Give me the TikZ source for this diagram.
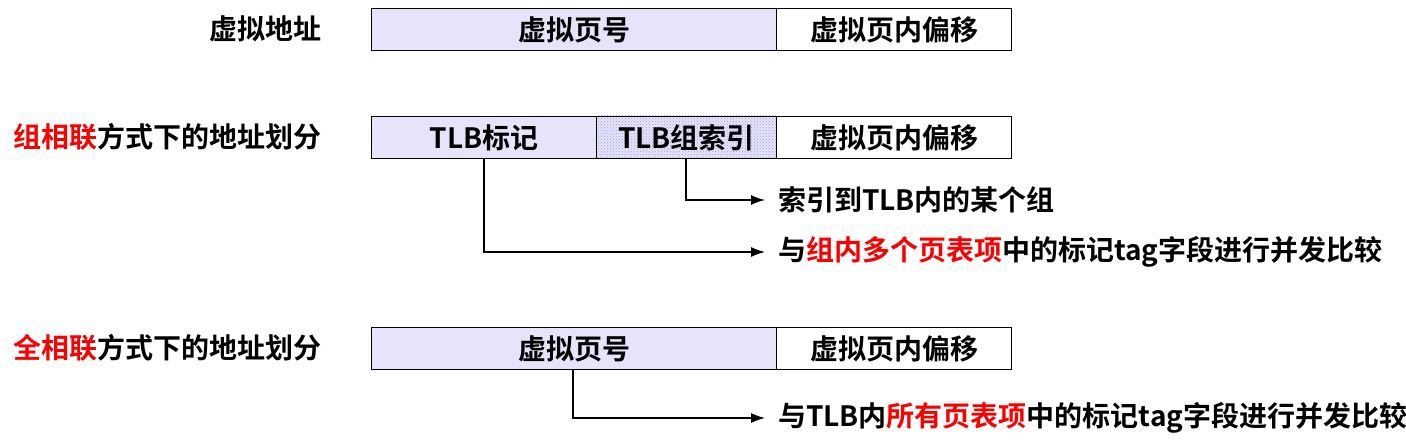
\documentclass[tikz,border=0pt]{standalone}
\usepackage{fontspec}
\setmainfont{Noto Sans CJK SC}[BoldFont={* Bold}]
\newfontfamily\cjkb{Noto Sans CJK SC Bold}
\usetikzlibrary{patterns,arrows.meta}
\definecolor{lav}{RGB}{230,228,250}
\definecolor{hatch}{RGB}{160,160,225}
\definecolor{myred}{RGB}{250,0,0}
\tikzset{
  fld/.style={draw=black,line width=1.2pt,minimum height=42pt,inner sep=0pt,anchor=north west,font=\cjkb\fontsize{28}{32}\selectfont},
  lbl/.style={font=\cjkb\fontsize{28}{32}\selectfont,inner sep=0pt},
  conn/.style={line width=1.3pt,-{Latex[length=14pt,width=10pt]}},
}
\begin{document}
\begin{tikzpicture}[x=1pt,y=-1pt]
\useasboundingbox (0,0) rectangle (1406,441);
% row 1
\node[fld,fill=lav,minimum width=405pt] (vpn1) at (371,8) {虚拟页号};
\node[fld,fill=white,minimum width=235pt] (off1) at (776,8) {虚拟页内偏移};
\node[lbl,anchor=east] (l1) at (322,29) {虚拟地址};
% row 2
\node[fld,fill=lav,minimum width=225pt] (tag2) at (371,116) {TLB标记};
\fill[lav] (596,116) rectangle (776,158);
\fill[pattern=crosshatch dots,pattern color=hatch] (596,116) rectangle (776,158);
\node[fld,minimum width=180pt] (idx2) at (596,116) {TLB组索引};
\node[fld,fill=white,minimum width=235pt] (off2) at (776,116) {虚拟页内偏移};
\node[lbl,anchor=east] (l2) at (322,137) {\textcolor{myred}{组相联}方式下的地址划分};
% row 3
\node[fld,fill=lav,minimum width=405pt] (vpn3) at (371,327) {虚拟页号};
\node[fld,fill=white,minimum width=235pt] (off3) at (776,327) {虚拟页内偏移};
\node[lbl,anchor=east] (l3) at (322,348) {\textcolor{myred}{全相联}方式下的地址划分};
% targets
\node[lbl,anchor=west] (t1) at (778,200) {索引到TLB内的某个组};
\node[lbl,anchor=west] (t2) at (778,252) {与\textcolor{myred}{组内多个页表项}中的标记tag字段进行并发比较};
\node[lbl,anchor=west] (t3) at (778,418) {与TLB内\textcolor{myred}{所有页表项}中的标记tag字段进行并发比较};
% connectors
\coordinate (c1) at (686,158);
\coordinate (c2) at (484,158);
\coordinate (c3) at (573,369);
\draw[conn] (c1) |- ([xshift=-13pt]t1.west);
\draw[conn] (c2) |- ([xshift=-13pt]t2.west);
\draw[conn] (c3) |- ([xshift=-13pt]t3.west);
\end{tikzpicture}
\end{document}
